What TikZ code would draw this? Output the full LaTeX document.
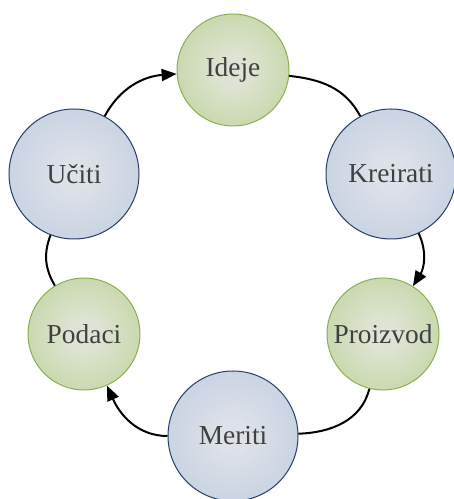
\documentclass[tikz,border=0pt]{standalone}
\usepackage{fontspec}
\setmainfont{Liberation Serif}
\usetikzlibrary{arrows.meta}

\definecolor{greenin}{RGB}{222,228,212}
\definecolor{greenout}{RGB}{176,203,128}
\definecolor{greenline}{RGB}{138,174,78}
\definecolor{bluein}{RGB}{221,225,232}
\definecolor{blueout}{RGB}{176,195,220}
\definecolor{blueline}{RGB}{40,64,104}
\definecolor{textgray}{RGB}{64,64,64}

\pgfdeclareradialshading{greenshade}{\pgfpoint{0bp}{0bp}}{color(0bp)=(greenin); color(6bp)=(greenin); color(50bp)=(greenout)}
\pgfdeclareradialshading{blueshade}{\pgfpoint{0bp}{0bp}}{color(0bp)=(bluein); color(6bp)=(bluein); color(50bp)=(blueout)}

\tikzset{
  ball/.style={circle, inner sep=0pt, text=textgray, font=\fontsize{13.7}{16}\selectfont},
  greenball/.style={ball, draw=greenline, line width=0.5pt, shading=greenshade, minimum size=56pt},
  blueball/.style={ball, draw=blueline, line width=0.5pt, shading=blueshade, minimum size=65pt},
  link/.style={line width=1pt, black},
  flow/.style={link, -{Triangle[length=7.5pt,width=6pt]}}
}

\begin{document}
\begin{tikzpicture}[x=0.5pt, y=0.5pt]
\useasboundingbox (0,0) rectangle (454,499);

%Steps of the cycle
\node[greenball] (ideje) at (233,429){Ideje};
\node[blueball] (kreirati) at (391,325){Kreirati};
\node[greenball] (proizvod) at (383,165){Proizvod};
\node[blueball] (meriti) at (233,63){Meriti};
\node[greenball] (podaci) at (84,165){Podaci};
\node[blueball] (uciti) at (74,325){Učiti};

%Connectors round the cycle
\draw[flow] (uciti) to[out=62,in=184] (ideje);
\draw[link] (ideje) to[out=-6,in=118] (kreirati);
\draw[flow] (kreirati) to[out=-65,in=58] (proizvod);
\draw[link] (proizvod) to[out=-104,in=2] (meriti);
\draw[flow] (meriti) to[out=180,in=-66] (podaci);
\draw[link] (podaci) to[out=121,in=-111] (uciti);

\end{tikzpicture}
\end{document}
